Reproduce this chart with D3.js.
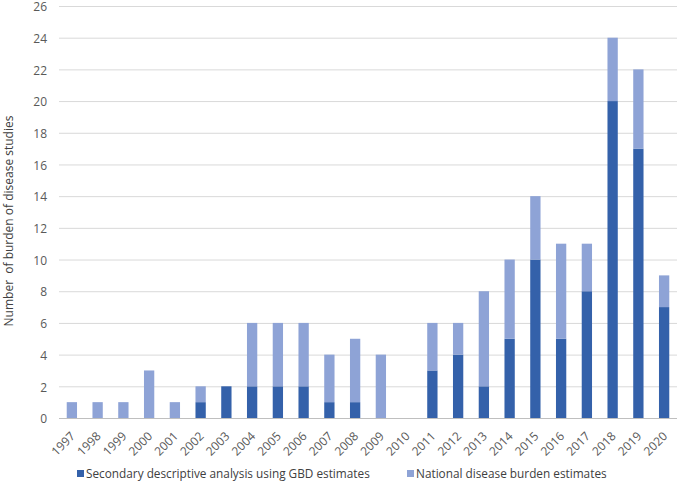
<!DOCTYPE html>
<html><head><meta charset="utf-8">
<script src="https://cdn.jsdelivr.net/npm/d3@7"></script>
<style>body{margin:0;background:#fff;font-family:Calibri,Carlito,"Open Sans",sans-serif;}</style>
</head><body><svg id="c" width="680" height="488"></svg>
<script>
const years = ["1997","1998","1999","2000","2001","2002","2003","2004","2005","2006","2007","2008","2009","2010","2011","2012","2013","2014","2015","2016","2017","2018","2019","2020"];
const gbd =      [0,0,0,0,0,1,2,2,2,2,1,1,0,0,3,4,2,5,10,5,8,20,17,7];
const national = [1,1,1,3,1,1,0,4,4,4,3,4,4,0,3,2,6,5,4,6,3,4,5,2];
const yTicks = [0,2,4,6,8,10,12,14,16,18,20,22,24,26];
const seriesNames = ["Secondary descriptive analysis using GBD estimates","National disease burden estimates"];
const colors = ["#3461AA","#8EA3D6"];

const svg = d3.select("#c");
const L=59,R=677,T=6,B=418;
const x = d3.scaleBand().domain(years).range([L,R]).paddingInner(0.6).paddingOuter(0.3);
const y = d3.scaleLinear().domain([0,26]).range([B,T]);
const font = "'Open Sans',sans-serif";

// gridlines
svg.append("g").selectAll("line").data(yTicks).join("line")
  .attr("x1",L).attr("x2",R).attr("y1",d=>y(d)+0.5).attr("y2",d=>y(d)+0.5)
  .attr("stroke","#d9d9d9").attr("stroke-width",1);
// y tick labels
svg.append("g").selectAll("text").data(yTicks).join("text")
  .attr("x",47).attr("y",d=>y(d)+1).attr("dy","0.35em").attr("text-anchor","end")
  .attr("font-family",font).attr("font-size",12).attr("fill","#595959").text(d=>d);

const data = years.map((yr,i)=>({yr,g:gbd[i],n:national[i]}));
const stack = d3.stack().keys(["g","n"])(data);
svg.append("g").selectAll("g").data(stack).join("g").attr("fill",(d,i)=>colors[i])
  .selectAll("rect").data(d=>d).join("rect")
  .attr("x",d=>x(d.data.yr)).attr("width",x.bandwidth())
  .attr("y",d=>y(d[1])).attr("height",d=>y(d[0])-y(d[1]));

// axis line
svg.append("line").attr("x1",L).attr("x2",R).attr("y1",B+0.5).attr("y2",B+0.5).attr("stroke","#bfbfbf");

// x labels
svg.append("g").selectAll("text").data(years).join("text")
  .attr("transform",d=>`translate(${x(d)+x.bandwidth()/2+1},${B+16}) rotate(-45)`)
  .attr("text-anchor","end").attr("dy","0.35em")
  .attr("font-family",font).attr("font-size",12).attr("fill","#595959").text(d=>d);

// y title
svg.append("text").attr("transform",`translate(13,221) rotate(-90)`)
  .attr("text-anchor","middle").attr("font-family",font).attr("font-size",12).attr("fill","#404040")
  .attr("xml:space","preserve").text("Number  of burden of disease studies");

// legend
const legX=[77,407];
seriesNames.forEach((s,i)=>{
  svg.append("rect").attr("x",legX[i]).attr("y",470).attr("width",7).attr("height",7).attr("fill",colors[i]);
  svg.append("text").attr("x",legX[i]+9).attr("y",474).attr("dy","0.35em")
    .attr("font-family",font).attr("font-size",11.8).attr("fill","#404040").text(s);
});
</script></body></html>
